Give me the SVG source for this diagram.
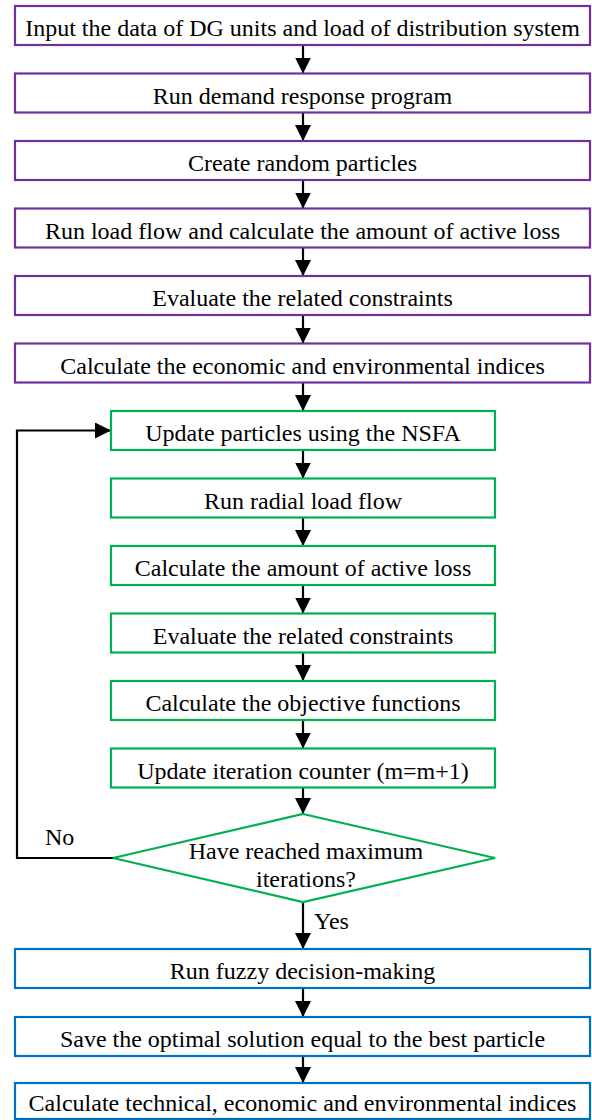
<svg xmlns="http://www.w3.org/2000/svg" width="592" height="1120" viewBox="0 0 592 1120">
<style>
.box{fill:#fff;stroke-width:2.2}
.p{stroke:#7030A0}
.g{stroke:#00B050}
.b{stroke:#0070C0}
.t{font-size:24px;fill:#000;text-anchor:middle}
.l{font-size:24px;fill:#000}
.c{fill:none;stroke:#000;stroke-width:2.2}
</style>
<defs>
<marker id="ah" viewBox="0 0 16 16" refX="16" refY="8" markerWidth="16" markerHeight="16" markerUnits="userSpaceOnUse" orient="auto">
<path d="M0,0 L16,8 L0,16 Z" fill="#000"/>
</marker>
</defs>
<rect width="592" height="1120" fill="#fff"/>
<g font-family="Liberation Serif, DejaVu Serif, serif">
<g id="connectors">
<line class="c" x1="303" y1="45" x2="303" y2="73.5" marker-end="url(#ah)"/>
<line class="c" x1="303" y1="112.5" x2="303" y2="141" marker-end="url(#ah)"/>
<line class="c" x1="303" y1="180" x2="303" y2="208.5" marker-end="url(#ah)"/>
<line class="c" x1="303" y1="247.5" x2="303" y2="276" marker-end="url(#ah)"/>
<line class="c" x1="303" y1="315" x2="303" y2="343.5" marker-end="url(#ah)"/>
<line class="c" x1="303" y1="382.5" x2="303" y2="411" marker-end="url(#ah)"/>
<line class="c" x1="303" y1="450" x2="303" y2="478.5" marker-end="url(#ah)"/>
<line class="c" x1="303" y1="517.5" x2="303" y2="546" marker-end="url(#ah)"/>
<line class="c" x1="303" y1="585" x2="303" y2="613.5" marker-end="url(#ah)"/>
<line class="c" x1="303" y1="652.5" x2="303" y2="681" marker-end="url(#ah)"/>
<line class="c" x1="303" y1="720" x2="303" y2="748.5" marker-end="url(#ah)"/>
<line class="c" x1="303" y1="787.5" x2="303" y2="814" marker-end="url(#ah)"/>
<line class="c" x1="303" y1="902" x2="303" y2="949" marker-end="url(#ah)"/>
<line class="c" x1="303" y1="988" x2="303" y2="1017" marker-end="url(#ah)"/>
<line class="c" x1="303" y1="1056" x2="303" y2="1083" marker-end="url(#ah)"/>
<polyline class="c" points="113,858 17,858 17,430.5 111,430.5" marker-end="url(#ah)"/>
<text class="l" x="45" y="845">No</text>
<text class="l" x="314" y="929">Yes</text>
</g>
<g id="n1"><rect class="box p" x="15" y="6" width="575" height="39"/><text class="t" x="302.5" y="36">Input the data of DG units and load of distribution system</text></g>
<g id="n2"><rect class="box p" x="15" y="73.5" width="575" height="39"/><text class="t" x="302.5" y="103.5">Run demand response program</text></g>
<g id="n3"><rect class="box p" x="15" y="141" width="575" height="39"/><text class="t" x="302.5" y="171">Create random particles</text></g>
<g id="n4"><rect class="box p" x="15" y="208.5" width="575" height="39"/><text class="t" x="302.5" y="238.5">Run load flow and calculate the amount of active loss</text></g>
<g id="n5"><rect class="box p" x="15" y="276" width="575" height="39"/><text class="t" x="302.5" y="306">Evaluate the related constraints</text></g>
<g id="n6"><rect class="box p" x="15" y="343.5" width="575" height="39"/><text class="t" x="302.5" y="373.5">Calculate the economic and environmental indices</text></g>
<g id="n7"><rect class="box g" x="111" y="411" width="384" height="39"/><text class="t" x="303" y="441">Update particles using the NSFA</text></g>
<g id="n8"><rect class="box g" x="111" y="478.5" width="384" height="39"/><text class="t" x="303" y="508.5">Run radial load flow</text></g>
<g id="n9"><rect class="box g" x="111" y="546" width="384" height="39"/><text class="t" x="303" y="576">Calculate the amount of active loss</text></g>
<g id="n10"><rect class="box g" x="111" y="613.5" width="384" height="39"/><text class="t" x="303" y="643.5">Evaluate the related constraints</text></g>
<g id="n11"><rect class="box g" x="111" y="681" width="384" height="39"/><text class="t" x="303" y="711">Calculate the objective functions</text></g>
<g id="n12"><rect class="box g" x="111" y="748.5" width="384" height="39"/><text class="t" x="303" y="778.5">Update iteration counter (m=m+1)</text></g>
<g id="n13"><polygon class="box g" points="303,814 495,858 303,902 113,858"/><text class="t" x="306" y="859">Have reached maximum</text><text class="t" x="306" y="887">iterations?</text></g>
<g id="n14"><rect class="box b" x="15" y="949" width="575" height="39"/><text class="t" x="302.5" y="979">Run fuzzy decision-making</text></g>
<g id="n15"><rect class="box b" x="15" y="1017" width="575" height="39"/><text class="t" x="302.5" y="1047">Save the optimal solution equal to the best particle</text></g>
<g id="n16"><rect class="box b" x="15" y="1083" width="575" height="36"/><text class="t" x="302.5" y="1111">Calculate technical, economic and environmental indices</text></g>
</g>
</svg>
